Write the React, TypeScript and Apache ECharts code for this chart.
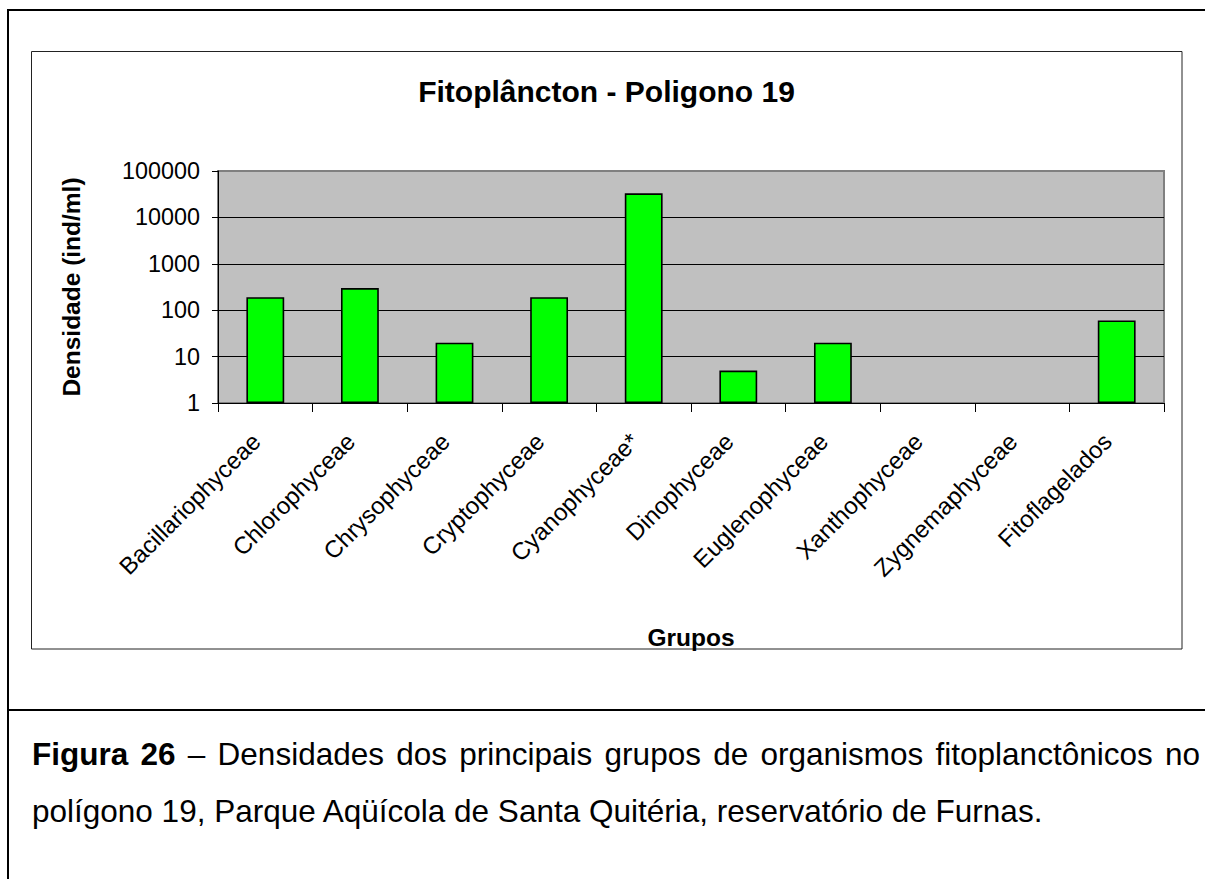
import React, { useEffect, useRef } from "react";
import * as echarts from "echarts";

const categories = [
  "Bacillariophyceae",
  "Chlorophyceae",
  "Chrysophyceae",
  "Cryptophyceae",
  "Cyanophyceae*",
  "Dinophyceae",
  "Euglenophyceae",
  "Xanthophyceae",
  "Zygnemaphyceae",
  "Fitoflagelados",
];
const densities = [190, 300, 20, 190, 33000, 5, 20, 0, 0, 60];
const yTickValues = [1, 10, 100, 1000, 10000, 100000];

const chartTitle = "Fitoplâncton - Poligono 19";
const yAxisName = "Densidade (ind/ml)";
const xAxisName = "Grupos";
const captionWords: [string, boolean][] = [
  ["Figura", true],
  ["26", true],
  ["–", false],
  ["Densidades", false],
  ["dos", false],
  ["principais", false],
  ["grupos", false],
  ["de", false],
  ["organismos", false],
  ["fitoplanctônicos", false],
  ["no", false],
];
const captionLine2 = "polígono 19, Parque Aqüícola de Santa Quitéria, reservatório de Furnas.";

const FONT = "'Liberation Sans', Arial, Helvetica, sans-serif";
const CAP_SIZE = 31.5;

function measure(text: string, font: string): number {
  const c = document.createElement("canvas").getContext("2d");
  if (!c) return text.length * 16;
  c.font = font;
  return c.measureText(text).width;
}

function captionGraphics() {
  const left = 32;
  const right = 1200;
  const fonts = captionWords.map(([, b]) => `${b ? "bold " : ""}${CAP_SIZE}px ${FONT}`);
  const widths = captionWords.map(([t], i) => measure(t, fonts[i]));
  const total = widths.reduce((a, b) => a + b, 0);
  const gap = (right - left - total) / (captionWords.length - 1);
  const els: any[] = [];
  let x = left;
  captionWords.forEach(([t], i) => {
    els.push({
      type: "text",
      x,
      y: 754,
      style: {
        text: t,
        font: fonts[i],
        fill: "#000",
        align: "left",
        verticalAlign: "middle",
        textAlign: "left",
        textVerticalAlign: "middle",
      },
    });
    x += widths[i] + gap;
  });
  els.push({
    type: "text",
    x: left,
    y: 811,
    style: {
      text: captionLine2,
      font: `${CAP_SIZE}px ${FONT}`,
      fill: "#000",
      align: "left",
      verticalAlign: "middle",
      textAlign: "left",
      textVerticalAlign: "middle",
    },
  });
  return els;
}

function buildOption(): any {
  return {
    animation: false,
    backgroundColor: "#ffffff",
    grid: {
      left: 218,
      top: 171,
      width: 946,
      height: 232,
      show: true,
      backgroundColor: "#c0c0c0",
      borderColor: "#808080",
      borderWidth: 2,
    },
    xAxis: {
      type: "category",
      data: categories,
      axisLine: { show: true, lineStyle: { color: "#000", width: 1 } },
      axisTick: { show: true, length: 9, interval: 0, lineStyle: { color: "#000" } },
      axisLabel: {
        interval: 0,
        rotate: 45,
        margin: 25,
        padding: [0, 13, 0, 0],
        fontSize: 24,
        fontFamily: FONT,
        color: "#000",
      },
      splitLine: { show: false },
      name: xAxisName,
      nameLocation: "middle",
      nameGap: 222,
      nameTextStyle: { fontSize: 24.5, fontWeight: "bold", fontFamily: FONT, color: "#000" },
    },
    yAxis: {
      type: "log",
      logBase: 10,
      min: yTickValues[0],
      max: yTickValues[yTickValues.length - 1],
      splitNumber: yTickValues.length - 1,
      axisLine: { show: true, lineStyle: { color: "#000", width: 1 } },
      axisTick: { show: true, length: 6, lineStyle: { color: "#000" } },
      axisLabel: {
        margin: 18,
        fontSize: 23.4,
        fontFamily: FONT,
        color: "#000",
        formatter: (v: number) => String(Math.round(v)),
      },
      splitLine: {
        show: true,
        lineStyle: { color: ["#000", "#000", "#000", "#000", "#000", "#808080"], width: 1 },
      },
      minorTick: { show: false },
      name: yAxisName,
      nameLocation: "middle",
      nameGap: 134,
      nameTextStyle: { fontSize: 24.5, fontWeight: "bold", fontFamily: FONT, color: "#000" },
    },
    series: [
      {
        type: "bar",
        data: densities.map((v) => (v > 0 ? v : "-")),
        barWidth: "40%",
        itemStyle: { color: "#00ff00", borderColor: "#000", borderWidth: 1.6 },
      },
    ],
    graphic: [
      {
        type: "polyline",
        shape: { points: [[8, 900], [8, 10], [1215, 10]] },
        style: { stroke: "#000", lineWidth: 2, fill: "none" },
      },
      {
        type: "line",
        shape: { x1: 8, y1: 710, x2: 1215, y2: 710 },
        style: { stroke: "#000", lineWidth: 2 },
      },
      {
        type: "rect",
        shape: { x: 31.5, y: 51.5, width: 1150.5, height: 597.5 },
        style: { stroke: "#222", lineWidth: 1, fill: "none" },
      },
      {
        type: "text",
        x: 606.5,
        y: 91.5,
        style: {
          text: chartTitle,
          font: `bold 30px ${FONT}`,
          fill: "#000",
          align: "center",
          verticalAlign: "middle",
          textAlign: "center",
          textVerticalAlign: "middle",
        },
      },
      ...captionGraphics(),
    ],
  };
}

export default function App() {
  const ref = useRef<HTMLDivElement>(null);
  useEffect(() => {
    if (!ref.current) return;
    const chart = echarts.init(ref.current, undefined, { renderer: "svg" });
    chart.setOption(buildOption());
    return () => chart.dispose();
  }, []);
  return (
    <div
      ref={ref}
      style={{ position: "absolute", left: 0, top: 0, width: 1205, height: 879, background: "#fff" }}
    />
  );
}
